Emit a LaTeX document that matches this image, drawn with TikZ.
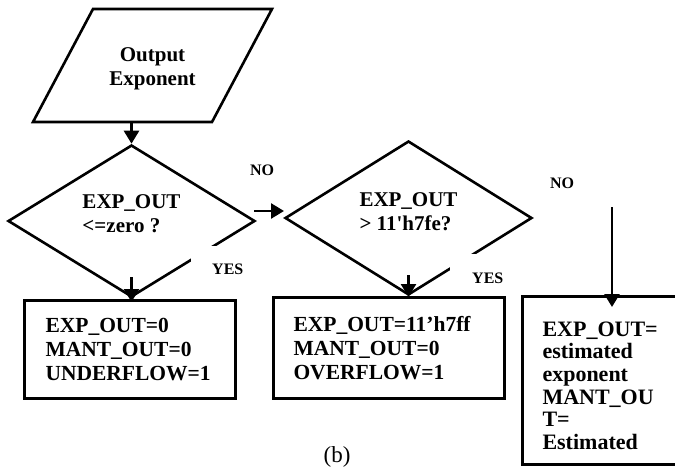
\documentclass[tikz,border=0pt]{standalone}
\usepackage{fontspec}
\setmainfont{Liberation Serif}
\usetikzlibrary{shapes.geometric,arrows.meta,calc}
% struts that lift or lower a text block inside its node
\newcommand{\upby}[1]{\rule[-#1]{0pt}{#1}}
\newcommand{\downby}[1]{\rule{0pt}{#1}}
\begin{document}
\begin{tikzpicture}[x=1pt,y=-1pt,
  every node/.style={font=\fontsize{21}{24}\selectfont\bfseries},
  line/.style={line width=2.6pt},
  arr/.style={line width=2.6pt,-{Triangle[length=13pt,width=15pt]}},
  box/.style={draw,line width=3pt,rectangle,align=left,inner ysep=0pt,anchor=north west,
              font=\fontsize{21.5}{24}\selectfont\bfseries},
  decision/.style={draw,line width=2.6pt,diamond,inner sep=0pt,align=left},
  tag/.style={font=\fontsize{16}{18}\selectfont\bfseries,inner sep=0pt},
  mask/.style={tag,fill=white,align=left,inner ysep=0pt,anchor=base west}]
\useasboundingbox (0,0) rectangle (675,468);

% input / output block
\draw[line] (33,122) -- (93,9) -- (272,9) -- (212,122) -- cycle;
\node[align=center,inner sep=0pt] (out) at (152.5,69) {Output\\Exponent};
\coordinate (o1) at (131.5,122);

% decisions
\node[decision,minimum width=247pt,minimum height=152pt] (d1) at (131.5,221)
  {EXP\_OUT\\<=zero ?\upby{14pt}};
\node[decision,minimum width=247pt,minimum height=154pt] (d2) at (408.5,218)
  {EXP\_OUT\\> 11\textquotesingle h7fe?\upby{12pt}};

% result boxes
\node[box,inner xsep=21pt,text width=169pt,minimum height=98pt] (b1) at (23,299)
  {EXP\_OUT=0\\MANT\_OUT=0\\UNDERFLOW=1};
\node[box,inner xsep=20pt,text width=191pt,minimum height=101pt] (b2) at (272,296)
  {EXP\_OUT=11'h7ff\\MANT\_OUT=0\\OVERFLOW=1};
\node[box,inner xsep=20pt,text width=129pt,minimum height=168pt,
      font=\fontsize{22}{22.6}\selectfont\bfseries] (b3) at (521,295)
  {\downby{25pt}EXP\_OUT=\\estimated\\exponent\\MANT\_OU\\T=\\Estimated};

% connectors
\coordinate (a1) at (254,211);
\coordinate (a2) at (284,211);
\coordinate (n2) at (612,207);
\draw[arr] (o1) -- (d1.north);
\draw[arr] ([yshift=21pt]d1.south) -- ($(d1.south |- b1.north)+(0,3)$);
\draw[arr] ([yshift=21pt]d2.south) -- ($(d2.south |- b2.north)+(0,1)$);
\draw[arr] (a1) -- (a2);
\draw[arr] (n2) -- ($(n2 |- b3.north)+(0,12)$);

% branch labels
\node[tag] (no1) at (262,170) {NO};
\node[tag] (no2) at (562,183) {NO};
\node[mask,inner xsep=21pt,text width=34pt,text height=28pt,text depth=6pt] (yes1) at (191,274) {YES};
\node[mask,inner xsep=22pt,text width=43pt,text height=29pt,text depth=12pt] (yes2) at (450,283) {YES};

% caption
\node[font=\fontsize{23}{26}\selectfont] (cap) at (337,457) {(b)};
\end{tikzpicture}
\end{document}
